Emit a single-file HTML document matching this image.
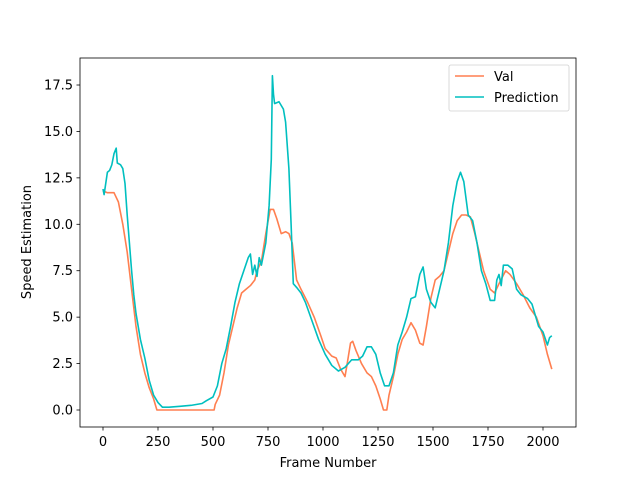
<!DOCTYPE html>
<html><head><meta charset="utf-8"><style>body{margin:0;background:#fff}svg{display:block;font-family:"DejaVu Sans","Liberation Sans",sans-serif}</style></head>
<body>
<svg id="c" width="640" height="480" viewBox="0 0 640 480"></svg>
<script>
const xTicks=[0,250,500,750,1000,1250,1500,1750,2000];
const yTicks=[0,2.5,5,7.5,10,12.5,15,17.5];
const yTickLabels=["0.0","2.5","5.0","7.5","10.0","12.5","15.0","17.5"];
const valFrames=[0,20,50,70,90,110,130,150,170,190,210,230,245,300,400,505,510,530,550,570,590,610,630,650,670,690,700,720,740,760,775,790,810,830,845,860,880,900,930,960,990,1010,1040,1060,1080,1100,1110,1125,1135,1150,1175,1200,1220,1240,1260,1275,1290,1300,1320,1340,1360,1380,1400,1420,1440,1455,1470,1490,1510,1530,1550,1570,1590,1610,1630,1650,1670,1690,1710,1730,1760,1780,1800,1830,1850,1880,1910,1940,1970,2000,2020,2040];
const valValues=[11.8,11.7,11.7,11.2,10,8.5,6.5,4.5,3,2,1.2,0.6,0,0,0,0,0.3,0.8,2,3.5,4.5,5.5,6.3,6.5,6.7,7,7.5,8,9.5,10.8,10.8,10.3,9.5,9.6,9.5,9,7,6.5,5.8,5,4,3.3,2.9,2.8,2.2,1.8,2.5,3.6,3.7,3.2,2.5,2,1.8,1.3,0.6,0,0,0.8,1.8,3,3.8,4.2,4.7,4.3,3.6,3.5,4.5,6,7,7.2,7.5,8.5,9.5,10.2,10.5,10.5,10.4,9.5,8.5,7.5,6.5,6.3,6.8,7.5,7.3,6.8,6.2,5.5,5,4,3,2.2];
const predFrames=[0,5,10,20,30,40,50,60,65,80,90,100,110,120,130,140,150,170,190,210,230,250,270,300,350,400,450,470,500,520,540,560,580,600,620,640,660,670,680,690,700,710,720,740,755,765,770,775,780,800,820,830,845,855,865,880,900,920,950,980,1010,1040,1070,1100,1130,1160,1180,1200,1220,1240,1260,1280,1300,1320,1340,1360,1380,1400,1420,1440,1455,1470,1490,1510,1530,1550,1570,1590,1610,1625,1640,1660,1680,1700,1720,1740,1760,1780,1790,1800,1810,1820,1840,1860,1880,1900,1930,1950,1980,2000,2020,2030,2040];
const predValues=[11.9,11.6,12,12.8,12.9,13.2,13.8,14.1,13.3,13.2,13,12.2,10.5,9,7.5,6.2,5.2,3.8,2.8,1.6,0.8,0.4,0.15,0.15,0.2,0.25,0.35,0.5,0.7,1.3,2.5,3.3,4.5,5.8,6.8,7.5,8.2,8.4,7.3,7.8,7.2,8.2,7.8,9,11,13.5,18,17,16.5,16.6,16.2,15.5,13,10,6.8,6.6,6.3,5.8,4.8,3.8,3,2.4,2.1,2.3,2.7,2.7,2.9,3.4,3.4,3,2,1.3,1.3,2,3.5,4.2,5,6,6.1,7.3,7.7,6.5,5.8,5.5,6.5,7.5,9,11,12.3,12.8,12.3,10.5,10.2,9,7.5,6.8,5.9,5.9,7,7.3,6.7,7.8,7.8,7.6,6.5,6.2,6,5.7,4.5,4.2,3.5,3.9,4];
const L=80,R=576,T=58,B=427;
const xs=v=>103+v*0.22, ys=v=>410-v*18.571;
const svg=document.getElementById('c'),NS="http://www.w3.org/2000/svg";
function mk(t,a,p){const e=document.createElementNS(NS,t);for(const k in a)e.setAttribute(k,a[k]);(p||svg).appendChild(e);return e;}
function line(fr,vals,color,name){const p=mk('polyline',{points:fr.map((f,i)=>xs(f)+','+ys(vals[i])).join(' '),fill:'none',stroke:color,'stroke-width':1.6,'stroke-linejoin':'round'});

}
line(valFrames,valValues,'#ff7f50','val-line');
line(predFrames,predValues,'#00bfbf','prediction-line');
const ax=mk('rect',{x:L,y:T,width:R-L,height:B-T,fill:'none',stroke:'#000','stroke-width':0.8});


xTicks.forEach(v=>{const x=xs(v);mk('line',{x1:x,x2:x,y1:B,y2:B+3.5,stroke:'#000','stroke-width':0.8});
const t=mk('text',{x:x,y:B+19,'text-anchor':'middle','font-size':13});t.textContent=v;

});
yTicks.forEach((v,i)=>{const y=ys(v);mk('line',{x1:L-3.5,x2:L,y1:y,y2:y,stroke:'#000','stroke-width':0.8});
const t=mk('text',{x:L-7,y:y+4.5,'text-anchor':'end','font-size':13});t.textContent=yTickLabels[i];

});
let t=mk('text',{x:328,y:467,'text-anchor':'middle','font-size':13});t.textContent='Frame Number';


t=mk('text',{x:0,y:0,'text-anchor':'middle','font-size':13,transform:'translate(31,242) rotate(-90)'});t.textContent='Speed Estimation';


const g=mk('g',{});


mk('rect',{x:449,y:65,width:120,height:46,rx:2,fill:'#fff',stroke:'#ccc','stroke-width':0.8,opacity:0.9},g);
[['Val','#ff7f50',76],['Prediction','#00bfbf',97]].forEach(([n,c,y])=>{mk('line',{x1:455,x2:484,y1:y,y2:y,stroke:c,'stroke-width':1.6},g);
const e=mk('text',{x:494,y:y+5,'font-size':13},g);e.textContent=n;

});
</script>
</body></html>
